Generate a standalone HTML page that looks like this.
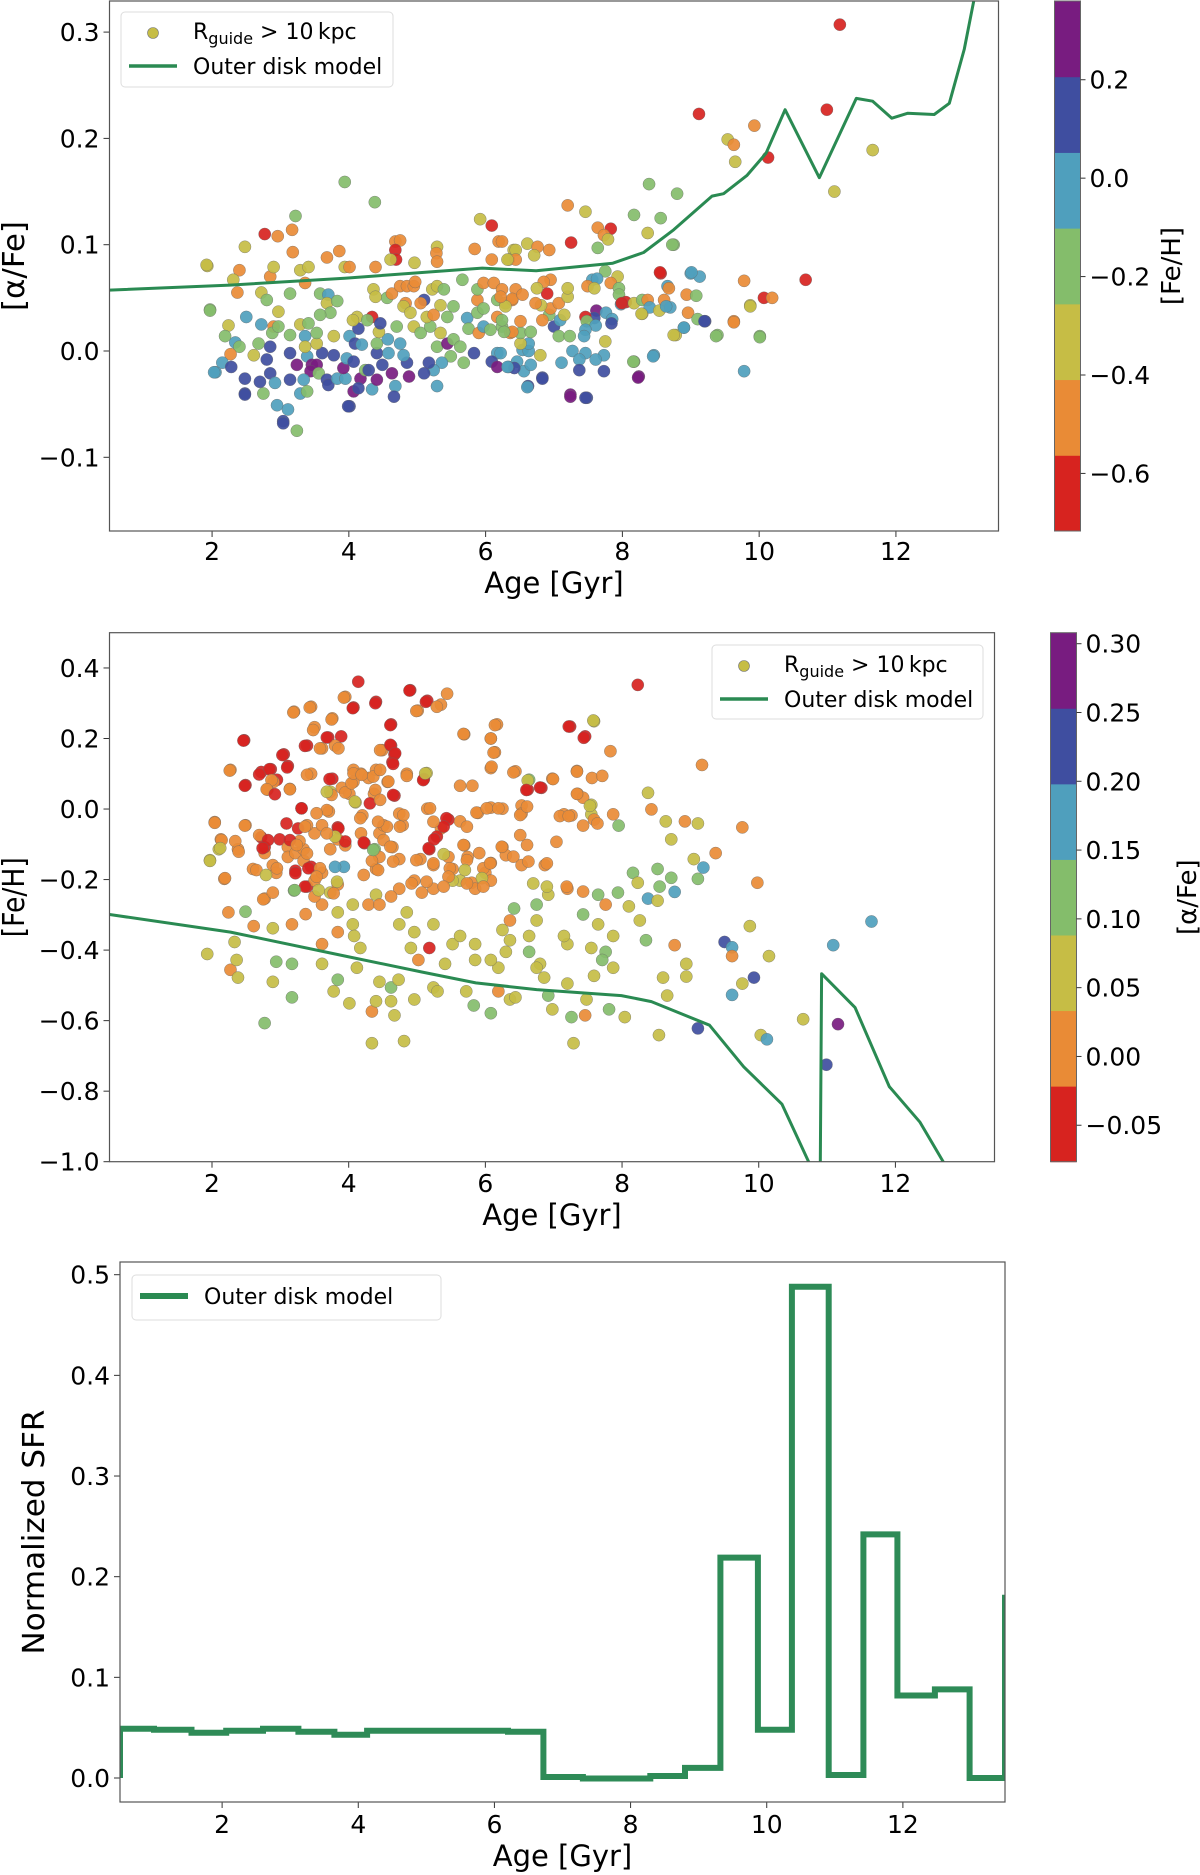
<!DOCTYPE html>
<html><head><meta charset="utf-8"><title>Outer disk chemistry</title>
<style>
html,body{margin:0;padding:0;background:#fff;}
svg{display:block;font-family:"DejaVu Sans","Liberation Sans",sans-serif;}
</style></head>
<body>
<svg id="fig" width="1200" height="1875" viewBox="0 0 1200 1875" xmlns="http://www.w3.org/2000/svg">
<defs>
<clipPath id="c1"><rect x="109.5" y="1" width="889" height="530"/></clipPath>
<clipPath id="c2"><rect x="109.5" y="632.7" width="885" height="529"/></clipPath>
<clipPath id="c3"><rect x="120" y="1262" width="885" height="540"/></clipPath>
</defs>
<g id="p1"></g>
<g id="p2"></g>
<g id="p3"></g>
</svg>
<script>
const bandColors = ["#d7231f","#e98b36","#c6bd45","#84bd6b","#4f9fbd","#3f4ea0","#781c80"];

// ---------- Panel 1 data ----------
const ages1 = [3.94,4.38,3.22,2.77,2.96,3.17,2.48,3.18,1.93,2.40,2.31,2.37,2.85,2.90,3.29,3.41,3.68,3.86,3.94,4.01,4.39,4.68,4.75,4.68,4.69,4.61,4.96,5.29,5.28,5.29,5.92,6.09,5.84,6.19,6.41,6.34,6.09,
2.72,2.80,2.97,3.14,3.36,3.58,3.70,3.68,3.83,3.73,1.97,2.50,2.24,2.19,2.34,2.40,2.27,2.15,2.05,2.28,2.48,2.48,2.72,2.90,2.88,2.68,2.85,2.61,2.80,2.70,2.85,2.92,2.75,2.95,3.11,3.04,3.24,3.14,3.24,3.39,3.46,3.53,3.44,3.34,3.14,3.29,3.39,3.56,3.61,3.68,3.70,3.83,3.95,3.92,3.78,3.97,4.01,4.14,4.09,4.19,4.07,4.17,4.24,4.29,4.34,4.07,4.01,4.14,4.41,4.49,4.41,4.41,4.58,4.57,4.44,4.34,4.46,4.12,4.27,4.06,3.78,3.36,3.36,3.53,3.53,3.29,2.97,3.14,3.41,3.58,
4.63,4.68,4.66,4.88,4.85,4.80,4.75,4.70,4.56,4.36,4.39,4.63,4.75,4.85,4.95,4.97,5.10,5.05,4.83,4.80,4.90,4.95,5.05,5.19,5.14,5.24,5.22,5.29,5.39,5.34,5.53,5.44,5.34,5.29,5.44,5.53,5.63,5.49,5.36,5.24,5.17,5.10,5.29,5.68,5.83,5.73,5.88,5.75,5.90,5.97,5.88,5.97,5.88,5.97,6.12,6.24,6.17,6.29,6.39,6.44,6.17,6.07,6.24,6.36,6.17,6.09,6.17,6.34,5.66,
8.39,8.80,7.20,7.46,8.17,8.56,7.64,7.83,7.73,7.79,8.37,7.25,7.64,8.75,6.24,6.61,6.76,6.93,6.44,6.71,6.44,6.32,8.56,9.00,9.13,9.78,10.68,7.75,7.93,7.56,7.63,7.83,7.95,7.49,7.59,7.95,8.05,7.98,8.17,8.29,8.37,8.61,8.66,8.68,8.94,9.08,10.07,10.19,9.87,8.29,8.40,8.54,8.70,8.96,9.10,9.21,9.63,8.90,8.78,9.39,10.01,
7.62,7.76,7.85,7.84,7.59,7.46,7.48,7.61,7.46,7.44,7.75,7.27,7.46,7.73,7.37,7.61,7.11,7.37,7.73,8.17,8.46,8.24,9.78,7.24,7.48,6.83,6.62,6.54,6.63,6.63,6.51,6.80,6.46,6.56,6.66,6.42,6.32,6.22,6.51,6.66,6.39,6.27,7.00,7.09,7.07,7.23,6.93,7.15,6.95,6.81,7.07,7.20,7.20,6.90,6.95,6.85,6.75,6.39,6.29,6.22,6.54,6.73,6.83,6.51,6.24,
11.18,9.12,10.99,9.93,9.54,9.63,9.65,10.13,11.66,11.10,8.73,9.37,9.01,8.55,8.75,8.90,8.16,8.45,8.23,8.64,8.28,7.99,1.92,1.97,2.03,2.48,3.04,3.99,7.24,7.46,6.61,6.83,9.20,9.63,9.87,10.01];
const alpha1 = [0.159,0.140,0.127,0.110,0.108,0.114,0.098,0.093,0.080,0.076,0.067,0.055,0.070,0.079,0.076,0.079,0.088,0.094,0.079,0.079,0.079,0.103,0.104,0.095,0.086,0.086,0.083,0.098,0.092,0.084,0.124,0.118,0.096,0.103,0.095,0.086,0.086,
0.055,0.048,0.037,0.054,0.064,0.054,0.053,0.045,0.047,0.036,0.039,0.032,0.024,0.014,0.008,0.004,-0.003,-0.011,-0.020,-0.015,-0.026,-0.040,0.025,0.023,0.017,0.007,0.004,-0.004,-0.008,-0.029,-0.021,-0.030,-0.040,-0.051,-0.055,-0.066,-0.075,-0.002,-0.013,-0.005,-0.013,-0.013,-0.019,-0.027,-0.027,-0.040,-0.038,-0.021,-0.002,-0.027,-0.032,-0.026,-0.026,-0.016,-0.004,-0.007,0.014,0.021,0.007,0.006,-0.010,-0.026,-0.018,-0.018,-0.036,-0.038,-0.052,-0.035,-0.027,-0.013,-0.002,0.007,-0.002,0.011,0.018,0.032,0.026,0.032,0.029,0.029,0.014,0.014,0.004,0.007,0.017,0.025,0.023,0.015,0.026,0.034,
-0.021,-0.033,-0.043,-0.024,-0.011,-0.004,0.007,0.023,0.050,0.058,0.051,0.054,0.061,0.061,0.061,0.065,0.048,0.045,0.045,0.042,0.036,0.023,0.017,0.023,0.032,0.034,0.058,0.061,0.058,0.043,0.042,0.032,0.017,0.004,0.007,0.011,0.004,-0.005,-0.011,-0.018,-0.011,-0.021,-0.033,-0.011,-0.002,0.031,0.036,0.021,0.017,0.023,0.048,0.040,0.058,0.064,0.064,0.058,0.048,0.045,0.048,0.058,0.032,0.020,0.023,0.017,-0.002,-0.010,-0.015,-0.015,0.067,
0.157,0.148,0.137,0.131,0.128,0.125,0.116,0.115,0.109,0.105,0.111,0.102,0.097,0.100,0.103,0.101,0.098,0.095,0.095,0.090,0.086,0.086,0.073,0.073,0.070,0.066,0.067,0.075,0.070,0.067,0.068,0.064,0.059,0.061,0.059,0.053,0.046,0.044,0.045,0.048,0.048,0.048,0.061,0.059,0.053,0.052,0.050,0.050,0.043,0.035,0.041,0.038,0.041,0.036,0.030,0.028,0.028,0.022,0.015,0.015,0.014,
0.038,0.036,0.030,0.026,0.031,0.032,0.028,0.024,0.020,0.014,0.009,0.000,-0.002,-0.004,-0.008,-0.008,-0.011,-0.018,-0.019,-0.010,-0.004,-0.024,-0.019,-0.041,-0.044,-0.025,-0.033,0.001,0.000,0.007,0.007,-0.004,-0.010,-0.019,-0.013,-0.016,-0.015,-0.002,0.017,0.018,0.018,0.018,0.023,0.029,0.014,0.014,0.034,0.034,0.040,0.043,0.045,0.051,0.059,0.054,0.067,0.065,0.059,0.049,0.042,0.051,0.053,0.045,0.029,0.028,0.029,
0.307,0.223,0.227,0.212,0.199,0.194,0.178,0.182,0.189,0.150,0.100,0.014,0.074,0.074,0.015,0.022,-0.010,-0.005,-0.025,0.042,0.035,0.045,0.081,0.038,-0.020,-0.041,-0.068,-0.052,-0.043,-0.044,-0.034,-0.026,0.028,0.027,0.042,0.013];
const feh1 = [-0.19,-0.19,-0.19,-0.65,-0.5,-0.5,-0.34,-0.5,-0.34,-0.5,-0.34,-0.5,-0.5,-0.34,-0.34,-0.34,-0.5,-0.5,-0.34,-0.5,-0.5,-0.5,-0.5,-0.65,-0.65,-0.34,-0.34,-0.34,-0.5,-0.5,-0.34,-0.65,-0.5,-0.5,-0.34,-0.34,-0.5,
-0.34,-0.19,-0.34,-0.19,-0.5,-0.19,-0.03,-0.34,-0.19,-0.19,-0.19,-0.03,-0.34,-0.19,-0.03,-0.19,-0.5,-0.03,-0.03,0.12,0.12,0.12,-0.03,-0.5,-0.19,-0.19,0.12,-0.34,0.12,0.12,0.12,-0.03,-0.19,-0.03,-0.03,0.12,-0.19,0.12,0.28,-0.03,0.28,0.28,0.28,-0.03,0.12,-0.03,-0.19,-0.19,0.12,0.12,0.12,-0.03,-0.03,0.28,0.12,-0.03,-0.03,0.12,0.12,-0.03,0.12,0.28,-0.19,0.12,-0.03,0.28,0.12,0.12,0.28,0.12,0.12,-0.19,-0.03,-0.03,-0.34,-0.65,0.12,-0.34,-0.19,-0.34,-0.34,-0.03,-0.34,-0.34,-0.19,-0.34,-0.19,-0.19,-0.19,-0.19,
0.28,-0.03,0.12,0.28,0.12,-0.03,-0.03,-0.19,-0.19,-0.34,-0.34,-0.5,-0.5,-0.5,-0.5,-0.5,0.12,-0.5,-0.5,-0.34,-0.34,-0.34,-0.19,-0.19,-0.34,-0.5,-0.34,-0.34,-0.19,-0.34,-0.19,-0.19,-0.34,-0.19,0.28,-0.19,-0.19,-0.19,-0.03,-0.03,0.12,0.12,-0.03,-0.19,0.12,-0.03,-0.19,-0.19,-0.5,-0.03,-0.5,-0.19,-0.19,-0.5,-0.5,-0.5,-0.19,-0.34,-0.5,-0.5,-0.5,-0.19,-0.19,-0.5,-0.03,0.12,0.28,-0.03,-0.19,
-0.19,-0.19,-0.5,-0.34,-0.19,-0.19,-0.5,-0.65,-0.5,-0.34,-0.34,-0.65,-0.19,-0.19,-0.5,-0.34,-0.5,-0.5,-0.34,-0.34,-0.5,-0.34,-0.65,-0.03,-0.03,-0.5,-0.65,-0.19,-0.34,-0.03,-0.03,-0.5,-0.19,-0.5,-0.34,-0.19,-0.65,-0.03,-0.34,-0.19,-0.5,-0.5,-0.03,-0.5,-0.5,-0.19,-0.65,-0.5,-0.34,-0.34,-0.03,-0.34,-0.03,-0.5,-0.19,0.12,-0.5,-0.03,-0.34,-0.19,-0.19,
0.28,-0.03,-0.03,0.12,0.12,-0.65,-0.19,-0.03,-0.03,-0.03,-0.34,-0.03,-0.03,-0.03,-0.03,-0.03,-0.03,0.12,0.12,-0.19,-0.03,0.28,-0.03,0.28,0.12,0.12,0.12,-0.03,-0.03,-0.03,-0.34,-0.34,-0.03,-0.03,-0.03,0.12,-0.03,-0.03,-0.19,-0.19,-0.5,-0.19,0.12,-0.03,-0.19,-0.19,-0.19,-0.34,-0.5,-0.34,-0.5,-0.34,-0.34,-0.65,-0.5,-0.5,-0.34,-0.5,-0.34,-0.5,-0.5,-0.5,-0.5,-0.5,-0.19,
-0.65,-0.65,-0.65,-0.5,-0.34,-0.5,-0.34,-0.65,-0.34,-0.34,-0.19,-0.19,-0.03,-0.65,-0.34,-0.03,-0.19,-0.03,0.28,-0.03,-0.34,-0.65,-0.34,-0.19,-0.03,0.12,0.12,0.12,0.28,0.12,-0.03,0.12,0.12,-0.5,-0.34,-0.19];
const modelAge1 = [0.5,2.26,3.94,5.62,5.95,6.74,7.86,8.31,8.75,9.31,9.48,9.82,10.1,10.38,10.88,11.42,11.66,11.94,12.17,12.56,12.78,13.0,13.14,13.3];
const modelAlpha1 = [0.0573,0.062,0.0685,0.0764,0.078,0.0754,0.0826,0.0927,0.114,0.1457,0.148,0.165,0.186,0.227,0.163,0.2376,0.235,0.219,0.2236,0.2225,0.233,0.284,0.33,0.40];
const xTicks = [2,4,6,8,10,12];
const yTicks1 = [-0.1,0.0,0.1,0.2,0.3];
const cbTicks1 = [-0.6,-0.4,-0.2,0.0,0.2];

// ---------- Panel 2 data ----------
const ages2 = [4.14,4.90,5.44,5.15,5.35,5.01,4.40,4.07,3.95,3.45,3.20,3.76,3.50,4.62,6.17,7.59,7.24,7.46,8.23,5.69,6.08,6.14,7.83,9.17,2.47,3.39,3.70,3.89,3.61,3.80,4.49,4.62,4.67,3.05,4.64,2.27,2.72,3.11,2.86,2.95,2.90,2.49,2.81,3.14,3.45,3.76,3.73,4.07,4.18,4.29,4.40,4.07,3.90,4.01,4.37,4.67,4.85,4.57,5.14,5.10,5.63,5.81,6.08,6.44,6.64,6.62,6.82,6.98,7.34,7.56,7.71,7.35,7.43,7.55,8.38,8.43,
3.31,4.10,3.71,4.20,4.74,5.15,5.46,5.35,5.29,5.63,5.89,6.08,6.25,6.53,6.53,7.15,7.26,7.55,7.59,7.87,7.43,7.64,7.95,8.64,8.92,9.11,9.76,2.04,2.49,2.13,2.10,2.38,1.97,2.18,2.24,2.49,2.77,2.60,2.77,2.99,3.11,2.72,2.77,2.89,2.94,3.11,3.22,3.22,3.34,3.45,3.39,3.50,3.61,3.34,3.28,3.50,3.61,3.39,3.84,3.93,3.73,3.95,3.84,4.18,4.23,4.38,4.45,4.51,4.79,4.64,4.45,4.40,4.34,4.74,5.05,5.18,5.46,5.24,5.52,5.69,5.74,6.00,6.08,5.91,6.25,6.30,6.53,6.87,
5.80,5.63,5.85,5.52,6.08,5.24,5.07,4.96,4.74,4.62,4.40,4.29,4.45,4.06,3.84,3.61,3.50,3.73,3.84,3.20,2.89,3.37,3.17,2.89,2.61,2.33,1.93,2.27,2.38,2.36,2.89,2.94,3.17,3.17,2.77,3.61,3.61,3.84,4.06,4.08,4.17,4.12,3.84,3.78,4.01,4.34,4.40,4.45,4.62,4.73,4.62,4.67,4.34,4.81,4.96,5.24,5.30,5.41,5.52,5.18,5.02,4.91,4.96,4.74,4.85,5.24,5.63,5.85,5.85,5.72,5.83,6.08,6.19,6.36,6.44,6.19,6.08,6.30,6.36,6.25,6.36,6.42,6.75,6.75,6.64,6.64,6.80,6.75,6.86,6.92,6.98,7.26,7.29,7.20,7.20,7.15,6.92,7.20,7.43,7.65,7.76,7.65,7.76,7.55,7.71,7.87,7.87,7.59,7.48,7.81,7.46,8.04,
7.94,8.10,8.16,8.23,8.26,8.35,8.52,8.55,8.38,8.52,8.72,8.77,8.72,9.05,9.11,9.19,9.37,9.98,8.77,8.94,8.94,8.60,8.66,8.54,9.87,9.50,9.61,9.61,10.15,9.93,9.76,9.61,9.11,10.03,10.12,10.65,10.99,11.16,11.09,11.65];
const feh2 = [0.361,0.337,0.327,0.307,0.296,0.279,0.304,0.288,0.318,0.290,0.276,0.257,0.232,0.240,0.240,0.249,0.234,0.206,0.352,0.212,0.200,0.161,0.164,0.125,0.195,0.180,0.203,0.206,0.172,0.180,0.167,0.180,0.155,0.155,0.133,0.111,0.105,0.122,0.113,0.083,0.077,0.068,0.055,0.057,0.100,0.086,0.049,0.111,0.100,0.088,0.111,0.077,0.060,0.043,0.043,0.038,0.100,0.077,0.102,0.085,0.066,0.066,0.116,0.107,0.083,0.055,0.060,0.086,0.108,0.088,0.094,0.043,0.032,0.012,0.046,-0.001,
0.002,0.019,-0.007,-0.018,-0.013,0.001,-0.030,-0.055,-0.078,-0.035,-0.011,0.004,0.001,0.010,-0.013,-0.015,-0.018,-0.015,-0.030,-0.015,-0.047,-0.041,-0.047,-0.035,-0.035,-0.041,-0.052,-0.037,-0.046,-0.086,-0.114,-0.114,-0.145,-0.198,-0.293,-0.291,-0.254,-0.170,-0.125,-0.086,-0.108,-0.080,-0.108,-0.159,-0.181,-0.136,-0.125,-0.175,-0.147,-0.164,-0.220,-0.203,-0.181,-0.114,-0.091,-0.069,-0.046,-0.046,-0.052,-0.164,-0.114,-0.103,-0.086,-0.069,-0.097,-0.114,-0.069,-0.046,-0.046,-0.108,-0.136,-0.170,-0.147,-0.142,-0.142,-0.114,-0.136,-0.159,-0.170,-0.103,-0.136,-0.181,-0.153,-0.125,-0.108,-0.131,-0.159,-0.159,
-0.209,-0.203,-0.226,-0.203,-0.203,-0.226,-0.237,-0.203,-0.226,-0.248,-0.243,-0.271,-0.271,-0.271,-0.293,-0.271,-0.248,-0.237,-0.214,-0.231,-0.237,-0.298,-0.327,-0.338,-0.332,-0.377,-0.411,-0.456,-0.478,-0.428,-0.490,-0.433,-0.439,-0.534,-0.607,-0.439,-0.383,-0.349,-0.327,-0.360,-0.394,-0.450,-0.484,-0.517,-0.551,-0.574,-0.545,-0.490,-0.506,-0.484,-0.545,-0.585,-0.664,-0.658,-0.540,-0.506,-0.517,-0.439,-0.383,-0.394,-0.428,-0.394,-0.349,-0.327,-0.293,-0.327,-0.360,-0.383,-0.428,-0.517,-0.557,-0.579,-0.517,-0.540,-0.534,-0.450,-0.428,-0.405,-0.372,-0.343,-0.316,-0.282,-0.271,-0.316,-0.360,-0.405,-0.439,-0.450,-0.478,-0.529,-0.568,-0.590,-0.664,-0.495,-0.383,-0.360,-0.243,-0.226,-0.299,-0.243,-0.271,-0.327,-0.405,-0.394,-0.428,-0.360,-0.450,-0.473,-0.540,-0.568,-0.585,-0.590,
-0.237,-0.276,-0.181,-0.209,-0.316,-0.372,-0.170,-0.220,-0.254,-0.260,-0.195,-0.235,-0.086,-0.142,-0.198,-0.166,-0.125,-0.209,-0.386,-0.439,-0.475,-0.478,-0.529,-0.641,-0.332,-0.377,-0.392,-0.417,-0.417,-0.478,-0.495,-0.527,-0.622,-0.641,-0.653,-0.596,-0.725,-0.610,-0.386,-0.319];
const alpha2 = [-0.05,-0.05,0.005,-0.05,0.005,0.005,-0.05,-0.05,0.005,0.005,0.005,0.005,0.005,-0.05,0.005,0.06,-0.05,-0.05,-0.05,0.005,0.005,0.005,0.005,0.005,-0.05,-0.05,-0.05,-0.05,0.005,0.005,0.005,-0.05,-0.05,-0.05,-0.05,0.005,-0.05,-0.05,-0.05,-0.05,0.005,-0.05,0.005,0.005,0.005,-0.05,0.06,0.005,0.005,0.005,0.005,0.005,0.005,0.005,0.005,-0.05,0.005,0.005,0.06,-0.05,0.005,0.005,0.005,0.005,0.115,-0.05,-0.05,0.005,0.005,0.005,0.005,0.005,0.005,0.06,0.06,0.005,
-0.05,0.06,0.005,0.005,0.005,0.005,-0.05,0.005,-0.05,0.005,0.005,0.005,0.005,0.005,0.005,0.005,0.005,0.06,0.005,0.005,0.005,0.005,0.115,0.06,0.005,0.06,0.005,0.005,0.005,0.005,0.06,0.005,0.06,0.005,0.005,0.115,0.005,0.005,0.005,-0.05,0.005,-0.05,-0.05,0.005,0.005,0.005,0.005,-0.05,0.005,-0.05,-0.05,0.005,0.005,0.005,0.005,0.005,0.005,0.005,-0.05,0.17,0.005,0.005,0.005,0.005,-0.05,0.115,0.005,0.005,0.005,0.005,0.005,0.005,0.005,0.005,0.005,-0.05,0.005,0.005,0.005,0.005,0.005,0.005,0.005,0.005,0.005,0.005,0.005,0.005,
0.005,0.06,0.005,0.06,0.005,0.005,0.005,0.005,0.005,0.005,0.06,0.005,0.005,0.06,0.06,0.005,0.005,0.06,0.005,0.115,0.005,0.005,0.005,0.06,0.005,0.06,0.06,0.005,0.06,0.06,0.06,0.115,0.115,0.115,0.115,0.06,0.005,0.005,0.06,0.06,0.06,0.06,0.115,0.06,0.06,0.005,0.06,0.06,0.115,0.06,0.06,0.06,0.06,0.06,0.06,0.06,0.06,0.06,0.06,-0.05,0.005,0.06,0.06,0.06,0.06,0.06,0.06,0.06,0.06,0.06,0.115,0.115,0.005,0.06,0.06,0.06,0.06,0.06,0.06,0.06,0.005,0.115,0.115,0.06,0.06,0.115,0.06,0.06,0.06,0.115,0.06,0.115,0.06,0.06,0.06,0.06,0.06,0.005,0.115,0.115,0.005,0.06,0.115,0.06,0.115,0.06,0.06,0.06,0.06,0.115,0.005,0.06,
0.115,0.06,0.115,0.06,0.06,0.115,0.115,0.115,0.17,0.06,0.115,0.17,0.06,0.06,0.115,0.17,0.005,0.005,0.005,0.06,0.06,0.06,0.06,0.06,0.06,0.225,0.17,0.005,0.06,0.225,0.06,0.17,0.225,0.06,0.17,0.06,0.225,0.28,0.17,0.17];
// additional stars in the dense metal-rich region
const ages2x = [3.19,3.43,3.75,3.93,3.48,2.46,3.36,3.68,3.58,3.85,3.03,3.10,2.84,2.69,2.26,2.48,2.87,2.80,2.92,3.14,3.39,3.72,3.75,3.68,3.95,4.04,4.07,4.19,4.36,4.46,4.39,4.31,4.09,4.46,4.58,4.65,4.46,4.61,4.68,4.65,4.61,4.39,4.06,4.89,4.99,5.13,5.29,4.85,5.09,5.12,5.19,5.43,5.39,5.24,4.80,4.75,4.56,4.43,4.17,3.68,3.31,3.09,3.26,3.14,3.36,3.53,3.85,3.95,3.80,3.68,4.22,4.51,4.36,4.61,5.17,5.25,5.39,5.68,5.73,5.87,6.02,6.19,5.68,6.08,6.12,6.09,6.14,6.41,6.62,6.60,6.80,6.99,7.22,7.44,7.58,7.34,7.34,7.53,7.09,7.22,6.51,6.61,6.51,6.61,6.24,6.41,6.63,6.90,7.04,6.70,6.90,7.19,7.43,5.73,5.97,6.07,2.19,1.97,2.04,2.48,2.14,2.34,2.12,2.39,2.69,2.82,2.74,2.65,2.79,2.95,3.24,3.39,3.22,3.41,3.58,3.53,3.80,3.83,3.36,3.21,3.56,3.78,4.22,4.43,4.65,4.99,5.24,5.48,5.46,5.70,5.73,5.95,5.97,4.92,5.14,5.39,2.75];
const feh2x = [0.274,0.288,0.254,0.316,0.224,0.194,0.179,0.203,0.172,0.172,0.153,0.118,0.113,0.098,0.109,0.066,0.082,0.056,0.042,0.056,0.097,0.085,0.040,0.049,0.047,0.073,0.101,0.097,0.092,0.111,0.054,0.016,0.021,0.026,0.078,0.040,0.167,0.182,0.158,0.128,0.238,0.300,0.286,0.336,0.278,0.304,0.290,0.094,0.082,0.101,0.002,-0.026,-0.050,-0.036,-0.017,-0.050,-0.050,-0.036,-0.026,-0.003,0.002,-0.041,-0.055,-0.088,-0.050,-0.012,-0.055,-0.092,-0.078,-0.069,-0.095,-0.088,-0.116,-0.107,-0.111,-0.086,-0.128,-0.102,-0.050,-0.010,0.002,0.002,0.213,0.200,0.160,0.120,0.238,0.104,0.081,0.054,0.061,0.085,0.234,0.202,0.251,0.106,0.043,0.009,-0.020,-0.020,-0.017,0.007,-0.074,-0.102,-0.107,-0.135,-0.149,-0.154,-0.093,-0.211,-0.220,-0.220,-0.234,-0.145,-0.168,-0.154,-0.196,-0.147,-0.039,-0.047,-0.088,-0.091,-0.111,-0.121,-0.074,-0.088,-0.111,-0.173,-0.187,-0.168,-0.102,-0.126,-0.182,-0.168,-0.168,-0.192,-0.164,-0.206,-0.220,-0.230,-0.230,-0.239,-0.187,-0.173,-0.149,-0.145,-0.154,-0.168,-0.192,-0.173,-0.211,-0.196,-0.220,-0.211,-0.206,-0.220,-0.256];
const alpha2x = [0.005,0.005,0.005,0.005,0.005,-0.05,-0.05,-0.05,0.005,0.005,-0.05,-0.05,-0.05,-0.05,0.005,-0.05,0.005,0.005,-0.05,0.005,0.005,-0.05,0.005,0.06,0.005,0.005,0.005,0.005,0.005,0.005,0.005,-0.05,0.06,0.005,0.005,-0.05,0.005,-0.05,-0.05,-0.05,-0.05,-0.05,-0.05,-0.05,0.005,-0.05,0.005,0.005,-0.05,0.06,0.005,-0.05,-0.05,0.005,0.005,0.005,0.005,0.005,0.005,0.005,-0.05,-0.05,-0.05,-0.05,0.005,0.005,-0.05,-0.05,0.06,0.005,-0.05,0.005,0.115,0.005,-0.05,-0.05,0.06,0.005,0.005,0.005,0.005,0.005,0.005,0.005,0.005,0.005,0.005,0.005,0.06,-0.05,-0.05,0.005,-0.05,-0.05,0.06,0.005,0.005,0.06,0.005,0.005,0.005,0.005,0.005,0.005,0.005,0.005,0.005,0.005,0.005,0.06,0.06,0.005,0.005,0.005,0.005,0.005,0.005,0.06,0.005,0.005,0.005,0.005,0.06,0.005,0.005,-0.05,-0.05,0.005,0.06,0.005,0.005,0.005,-0.05,-0.05,0.005,0.005,0.17,0.06,-0.05,0.115,0.06,0.005,0.005,0.005,0.005,0.005,0.005,0.005,0.005,0.06,0.005,0.06,0.005,0.005,0.005,0.005,0.005];
const modelAge2a = [0.5,2.27,3.95,5.07,5.86,6.75,7.99,8.43,9.28,9.78,10.34,10.73,10.8];
const modelFeh2a = [-0.299,-0.349,-0.417,-0.462,-0.493,-0.512,-0.529,-0.546,-0.613,-0.731,-0.837,-1.0,-1.05];
const modelAge2b = [10.90,10.92,11.41,11.91,12.36,12.70,12.75];
const modelFeh2b = [-1.05,-0.467,-0.563,-0.787,-0.888,-1.0,-1.02];
const yTicks2 = [-1.0,-0.8,-0.6,-0.4,-0.2,0.0,0.2,0.4];
const cbTicks2 = [-0.05,0.00,0.05,0.10,0.15,0.20,0.25,0.30];

// ---------- Panel 3 data ----------
const sfrEdges = [0.5,1.0,1.55,2.06,2.6,3.12,3.65,4.13,4.6,5.2,5.7,6.2,6.72,7.3,8.29,8.8,9.32,9.87,10.37,10.91,11.42,11.92,12.47,12.98,13.5];
const sfrValues = [0.049,0.048,0.045,0.047,0.049,0.046,0.043,0.047,0.047,0.047,0.047,0.046,0.001,-0.0005,0.002,0.010,0.219,0.048,0.488,0.003,0.242,0.082,0.088,0.0];
const sfrStart = 0.0;
const sfrEnd = 0.182;
const yTicks3 = [0.0,0.1,0.2,0.3,0.4,0.5];

// ---------- helpers ----------
const NS = "http://www.w3.org/2000/svg";
function mk(parent, tag, attrs, text){
  const e = document.createElementNS(NS, tag);
  for (const k in attrs) e.setAttribute(k, attrs[k]);
  if (text !== undefined) e.textContent = text;
  parent.appendChild(e);
  return e;
}
function lin(d0,d1,r0,r1){ return v => r0 + (v-d0)*(r1-r0)/(d1-d0); }
function fmt(v,dec){ const s = Math.abs(v).toFixed(dec); return (v < -1e-9 ? "\u2212" : "") + s; }
function bandColor(v, vmin, vmax){
  let i = Math.floor((v - vmin)/(vmax - vmin)*7);
  i = Math.max(0, Math.min(6, i));
  return bandColors[i];
}

function axesFrame(g, L, T, R, B, xs, ys, yt, ydec, xlab, ylab, xlabY, xtickY, ylabX, ylabLen){
  xTicks.forEach(t => {
    const x = xs(t);
    const tk = mk(g,"line",{x1:x,y1:B,x2:x,y2:B+6,stroke:"#333","stroke-width":1});
    
    
    const lb = mk(g,"text",{x:x,y:xtickY,"text-anchor":"middle","font-size":25,fill:"#000"}, String(t));
    
    
  });
  yt.forEach(t => {
    const y = ys(t);
    const tk = mk(g,"line",{x1:L-6,y1:y,x2:L,y2:y,stroke:"#333","stroke-width":1});
    
    
    const lb = mk(g,"text",{x:L-10,y:y+9,"text-anchor":"end","font-size":25,fill:"#000"}, fmt(t,ydec));
    
    
  });
  const fr = mk(g,"rect",{x:L,y:T,width:R-L,height:B-T,fill:"none",stroke:"#555","stroke-width":1.2});
  
  
  const xl = mk(g,"text",{x:(L+R)/2,y:xlabY,"text-anchor":"middle","font-size":29,fill:"#000"}, xlab);
  
  
  const cy = (T+B)/2;
  const yl = mk(g,"text",{x:0,y:0,"text-anchor":"middle","font-size":30,fill:"#000",transform:`translate(${ylabX},${cy}) rotate(-90)`,textLength:ylabLen,lengthAdjust:"spacingAndGlyphs"}, ylab);
  
  
}

function colorbar(g, x, T, B, w, vmin, vmax, ticks, dec, label, labelX){
  const cs = lin(vmin, vmax, B, T);
  const h = (B-T)/7;
  for (let i=0;i<7;i++){
    const r = mk(g,"rect",{x:x,y:B-(i+1)*h,width:w,height:h+0.5,fill:bandColors[i]});
    
    
  }
  const fr = mk(g,"rect",{x:x,y:T,width:w,height:B-T,fill:"none",stroke:"#666","stroke-width":1});
  
  
  ticks.forEach(t => {
    const y = cs(t);
    const tk = mk(g,"line",{x1:x+w,y1:y,x2:x+w+5,y2:y,stroke:"#333","stroke-width":1});
    
    
    const lb = mk(g,"text",{x:x+w+9,y:y+9,"font-size":25,fill:"#000"}, fmt(t,dec));
    
    
  });
  const cy = (T+B)/2;
  const lb = mk(g,"text",{x:0,y:0,"text-anchor":"middle","font-size":26,fill:"#000",transform:`translate(${labelX},${cy}) rotate(-90)`}, label);
  
  
}

function legend(g, x, y, w, h, withDot, lines){
  const bx = mk(g,"rect",{x:x,y:y,width:w,height:h,rx:4,fill:"#fff","fill-opacity":0.85,stroke:"#ddd","stroke-width":1});
  
  
  let yy = y + 21;
  if (withDot){
    const d = mk(g,"circle",{cx:x+32,cy:yy,r:5.5,fill:"#c6bd45",stroke:"#777","stroke-width":0.6});
    
    
    const t = mk(g,"text",{x:x+72,y:yy+6,"font-size":22,fill:"#000"});
    
    
    mk(t,"tspan",{},"R");
    mk(t,"tspan",{"font-size":16,dy:5},"guide");
    mk(t,"tspan",{dy:-5}," > 10\u2009kpc");
    yy += 33;
  }
  const ln = mk(g,"line",{x1:x+8,y1:yy,x2:x+56,y2:yy,stroke:"#2a8a52","stroke-width":lines});
  
  
  const t2 = mk(g,"text",{x:x+72,y:yy+8,"font-size":22,fill:"#000"},"Outer disk model");
  
  
}

function scatter(g, clip, xs, ys, X, Y, C, vmin, vmax){
  const sg = mk(g,"g",{"clip-path":clip});
  
  
  const n = Math.min(X.length, Y.length, C.length);
  for (let i=0;i<n;i++){
    const c = mk(sg,"circle",{cx:xs(X[i]),cy:ys(Y[i]),r:6.1,fill:bandColor(C[i],vmin,vmax),"fill-opacity":0.92,stroke:"#666","stroke-width":0.5,"stroke-opacity":0.7});
    
    
  }
}
function polyline(g, clip, xs, ys, X, Y, w, name){
  let d = "";
  for (let i=0;i<Math.min(X.length,Y.length);i++) d += (i?"L":"M") + xs(X[i]).toFixed(1) + "," + ys(Y[i]).toFixed(1);
  const p = mk(g,"path",{d:d,fill:"none",stroke:"#2a8a52","stroke-width":w,"stroke-linejoin":"round","clip-path":clip});
  
  
}

// ---------- Panel 1 ----------
(function(){
  const g = document.getElementById("p1");
  const L=109.5,R=998.5,T=1,B=531;
  const xs = lin(0.5,13.5,L,R);
  const ys = lin(0.0,0.1,351,244.7);
  scatter(g,"url(#c1)",xs,ys,ages1,alpha1,feh1,-0.717,0.36);
  polyline(g,"url(#c1)",xs,ys,modelAge1,modelAlpha1,3,"model-line");
  axesFrame(g,L,T,R,B,xs,ys,yTicks1,1,"Age [Gyr]","[\u03b1/Fe]",593,560,24,90);
  legend(g,121,12,272,75,true,3.5);
  colorbar(g,1054.5,1,531,26,-0.717,0.36,cbTicks1,1,"[Fe/H]",1180);
})();

// ---------- Panel 2 ----------
(function(){
  const g = document.getElementById("p2");
  const L=109.5,R=994.5,T=632.7,B=1161.7;
  const xs = lin(0.5,13.45,L,R);
  const ys = lin(-1.0,0.5,B,T);
  scatter(g,"url(#c2)",xs,ys,ages2,feh2,alpha2,-0.0765,0.308);
  scatter(g,"url(#c2)",xs,ys,ages2x,feh2x,alpha2x,-0.0765,0.308);
  polyline(g,"url(#c2)",xs,ys,modelAge2a,modelFeh2a,3,"model-line");
  polyline(g,"url(#c2)",xs,ys,modelAge2b,modelFeh2b,3,"model-line-late");
  axesFrame(g,L,T,R,B,xs,ys,yTicks2,1,"Age [Gyr]","[Fe/H]",1225,1192,24,80);
  legend(g,712,645,271,74,true,3.5);
  colorbar(g,1050.5,632.7,1161.7,26,-0.0765,0.308,cbTicks2,2,"[\u03b1/Fe]",1196);
})();

// ---------- Panel 3 ----------
(function(){
  const g = document.getElementById("p3");
  const L=120,R=1005,T=1262,B=1802;
  const xs = lin(0.5,13.5,L,R);
  const ys = lin(0.0,0.5,1778,1274.7);
  let d = "M" + xs(sfrEdges[0]).toFixed(1) + "," + ys(sfrStart).toFixed(1);
  for (let i=0;i<sfrValues.length;i++){
    d += "L" + xs(sfrEdges[i]).toFixed(1) + "," + ys(sfrValues[i]).toFixed(1);
    d += "L" + xs(sfrEdges[i+1]).toFixed(1) + "," + ys(sfrValues[i]).toFixed(1);
  }
  d += "L" + xs(sfrEdges[sfrEdges.length-1]).toFixed(1) + "," + ys(sfrEnd).toFixed(1);
  const p = mk(g,"path",{d:d,fill:"none",stroke:"#2e8b57","stroke-width":6,"stroke-linejoin":"miter","clip-path":"url(#c3)"});
  
  
  axesFrame(g,L,T,R,B,xs,ys,yTicks3,1,"Age [Gyr]","Normalized SFR",1866,1833,44,245);
  legend(g,132,1275,309,45,false,6);
})();
</script>
</body></html>
